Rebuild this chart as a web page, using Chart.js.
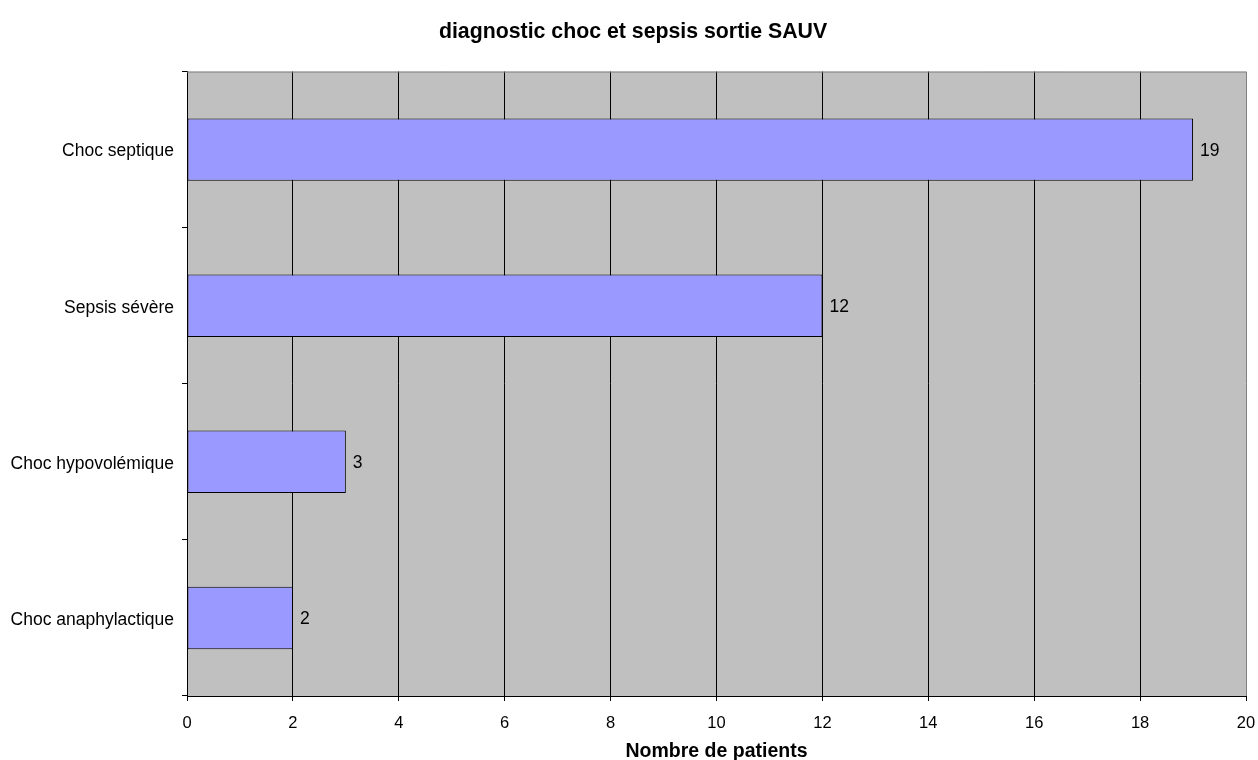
<!DOCTYPE html>
<html>
<head>
<meta charset="utf-8">
<title>diagnostic choc et sepsis sortie SAUV</title>
<script src="https://cdn.jsdelivr.net/npm/chart.js@4.4.1/dist/chart.umd.min.js"></script>
<style>
  html, body { margin: 0; padding: 0; background: #ffffff; }
  #wrap { width: 1258px; height: 760px; position: relative; }
</style>
</head>
<body>
<div id="wrap"><canvas id="chart" width="1258" height="760"></canvas></div>
<script>
// Diagnostic categories at discharge and patient counts
const categories = ['Choc septique', 'Sepsis sévère', 'Choc hypovolémique', 'Choc anaphylactique'];
const patients = [19, 12, 3, 2];
const xTickValues = [0, 2, 4, 6, 8, 10, 12, 14, 16, 18, 20];

const chartTitle = 'diagnostic choc et sepsis sortie SAUV';
const xAxisTitle = 'Nombre de patients';

const FONT = "'Liberation Sans', Arial, Helvetica, sans-serif";

// Grey plot background and frame
const plotBackground = {
  id: 'plotBackground',
  beforeDraw(chart) {
    const { ctx, chartArea: a } = chart;
    ctx.save();
    ctx.fillStyle = '#C0C0C0';
    ctx.fillRect(a.left, a.top, a.right - a.left, a.bottom - a.top);
    ctx.restore();
  },
  afterDatasetsDraw(chart) {
    const { ctx, chartArea: a } = chart;
    ctx.save();
    ctx.strokeStyle = '#808080';
    ctx.lineWidth = 1;
    ctx.beginPath();
    ctx.moveTo(a.left, a.top + 0.5);
    ctx.lineTo(a.right, a.top + 0.5);
    ctx.stroke();
    ctx.restore();
  }
};

// Value printed just past the end of each bar
const valueLabels = {
  id: 'valueLabels',
  afterDatasetsDraw(chart) {
    const { ctx } = chart;
    const meta = chart.getDatasetMeta(0);
    const values = chart.data.datasets[0].data;
    ctx.save();
    ctx.font = '17.5px ' + FONT;
    ctx.fillStyle = '#000000';
    ctx.textAlign = 'left';
    ctx.textBaseline = 'middle';
    meta.data.forEach((bar, i) => {
      ctx.fillText(String(values[i]), bar.x + 7, bar.y + 1.5);
    });
    ctx.restore();
  }
};

new Chart(document.getElementById('chart'), {
  type: 'bar',
  data: {
    labels: categories,
    datasets: [{
      data: patients,
      backgroundColor: '#9999FF',
      borderColor: '#000000',
      borderWidth: 1,
      borderSkipped: false,
      categoryPercentage: 1.0,
      barPercentage: 0.4
    }]
  },
  options: {
    indexAxis: 'y',
    responsive: false,
    animation: false,
    layout: { padding: { left: 10, right: 2, top: 0, bottom: 0 } },
    plugins: {
      legend: { display: false },
      tooltip: { enabled: false },
      title: {
        display: true,
        text: chartTitle,
        color: '#000000',
        font: { family: FONT, size: 21.3, weight: 'bold', lineHeight: 1.2 },
        padding: { top: 19, bottom: 27 }
      }
    },
    scales: {
      x: {
        type: 'linear',
        min: 0,
        max: 20,
        afterBuildTicks(scale) {
          scale.ticks = xTickValues.map(v => ({ value: v }));
        },
        afterFit(scale) {
          scale.height = 64;
          scale.paddingLeft = 0;
          scale.paddingRight = 12;
        },
        border: { display: true, color: '#000000', width: 1 },
        grid: {
          color: (c) => (c.tick && c.tick.value === 20 ? '#808080' : '#000000'),
          lineWidth: 1,
          tickLength: 5,
          tickColor: '#000000',
          drawTicks: true
        },
        ticks: {
          color: '#000000',
          font: { family: FONT, size: 16.5 },
          padding: 13,
          maxRotation: 0
        },
        title: {
          display: true,
          text: xAxisTitle,
          color: '#000000',
          font: { family: FONT, size: 19.5, weight: 'bold', lineHeight: 0.9 },
          padding: { top: 0, bottom: 0 }
        }
      },
      y: {
        type: 'category',
        offset: true,
        afterFit(scale) { scale.width = 177; },
        border: { display: true, color: '#000000', width: 1 },
        grid: {
          offset: true,
          drawOnChartArea: false,
          tickLength: 5,
          tickColor: '#000000',
          color: '#000000'
        },
        ticks: {
          color: '#000000',
          font: { family: FONT, size: 17.5 },
          padding: 8,
          labelOffset: 2
        }
      }
    }
  },
  plugins: [plotBackground, valueLabels]
});
</script>
</body>
</html>
